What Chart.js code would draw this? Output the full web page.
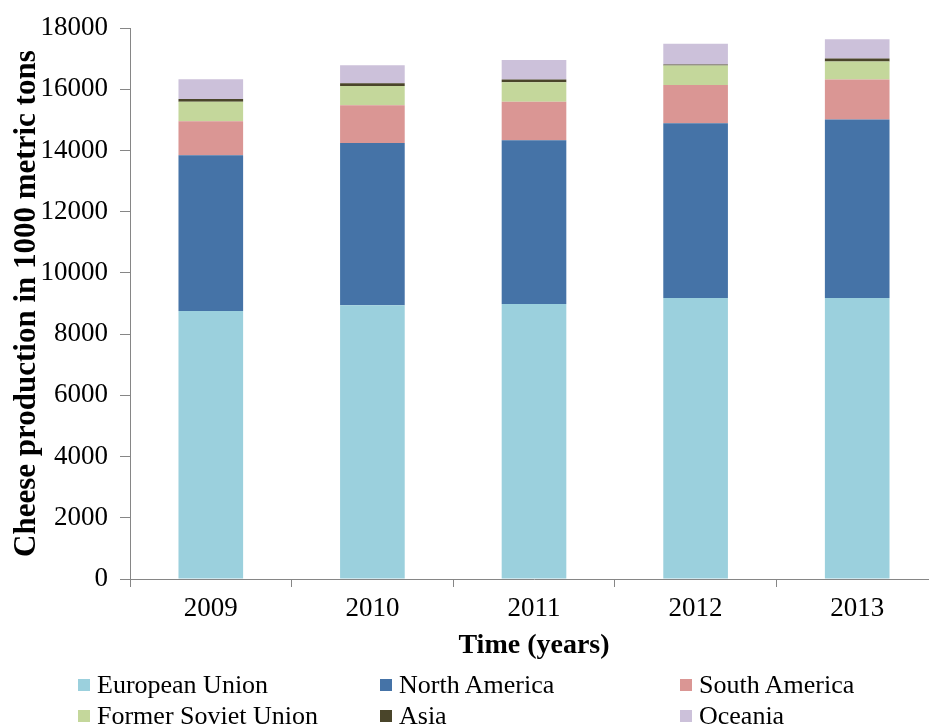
<!DOCTYPE html>
<html>
<head>
<meta charset="utf-8">
<script src="https://cdn.jsdelivr.net/npm/chart.js@4.4.1/dist/chart.umd.min.js"></script>
<style>
  html, body { margin: 0; padding: 0; overflow: hidden; background: #fff; width: 929px; height: 726px; }
  #wrap { position: absolute; left: 0; top: 0; width: 960px; height: 726px; }
  #legend { position: absolute; left: 0; top: 0; font-family: "Liberation Serif", serif; font-size: 26px; color: #000; }
  .item { position: absolute; white-space: nowrap; line-height: 30px; }
  .item .box { display: inline-block; width: 12px; height: 12px; margin-right: 7px; vertical-align: middle; position: relative; top: -2px; }
</style>
</head>
<body>
<div id="wrap">
  <canvas id="cheeseChart" width="960" height="726"></canvas>
  <div id="legend"></div>
</div>
<script>
// cheese production, 1000 metric tons
const years = ['2009', '2010', '2011', '2012', '2013'];
const europeanUnion = [8760, 8950, 8990, 9180, 9180];
const northAmerica = [5090, 5300, 5350, 5710, 5840];
const southAmerica = [1110, 1230, 1260, 1250, 1300];
const formerSovietUnion = [640, 630, 630, 640, 590];
const asia = [90, 90, 90, 35, 100];
const oceania = [640, 590, 640, 680, 630];

const seriesNames = ['European Union', 'North America', 'South America', 'Former Soviet Union', 'Asia', 'Oceania'];
const seriesColors = ['#9BD0DD', '#4573A7', '#DA9694', '#C4D79B', '#4A452A', '#CCC1DA'];
const seriesValues = [europeanUnion, northAmerica, southAmerica, formerSovietUnion, asia, oceania];

const axisColor = '#868686';
const serif = 'Liberation Serif';

const data = {
  labels: years,
  datasets: seriesNames.map((name, i) => ({
    label: name,
    data: seriesValues[i],
    backgroundColor: seriesColors[i],
    borderWidth: 0,
    barPercentage: 0.4,
    categoryPercentage: 1
  }))
};

const config = {
  type: 'bar',
  data: data,
  options: {
    responsive: false,
    animation: false,
    layout: { padding: { top: 26, right: 22, bottom: 63, left: 0 } },
    plugins: {
      legend: { display: false },
      tooltip: { enabled: false }
    },
    scales: {
      x: {
        stacked: true,
        grid: { display: true, drawOnChartArea: false, tickLength: 8, color: axisColor, offset: true },
        border: { color: axisColor, width: 1 },
        ticks: { color: '#000', font: { family: serif, size: 27 }, padding: 6 },
        title: { display: true, text: 'Time (years)', color: '#000', font: { family: serif, size: 28, weight: 'bold' }, padding: { top: 0, bottom: 0 } },
        afterFit: (scale) => { scale.height = 84; }
      },
      y: {
        stacked: true,
        min: 0,
        max: 18000,
        grid: { display: true, drawOnChartArea: false, tickLength: 10, color: axisColor },
        border: { color: axisColor, width: 1 },
        ticks: { stepSize: 2000, color: '#000', font: { family: serif, size: 27 }, padding: 12, callback: (v) => String(v) },
        title: { display: true, text: 'Cheese production in 1000 metric tons', color: '#000', font: { family: serif, size: 31, weight: 'bold' }, padding: { top: 8, bottom: 0 } },
        afterFit: (scale) => { scale.width = 130; }
      }
    }
  }
};

window.cheeseChart = new Chart(document.getElementById('cheeseChart'), config);

// legend in a 3-column grid like the original
const legendSpots = [[78, 670], [380, 670], [680, 670], [78, 701], [380, 701], [680, 701]];
const legendEl = document.getElementById('legend');
seriesNames.forEach((name, i) => {
  const item = document.createElement('div');
  item.className = 'item';
  item.style.left = legendSpots[i][0] + 'px';
  item.style.top = legendSpots[i][1] + 'px';
  item.innerHTML = '<span class="box" style="background:' + seriesColors[i] + '"></span>' + name;
  legendEl.appendChild(item);
});
</script>
</body>
</html>
